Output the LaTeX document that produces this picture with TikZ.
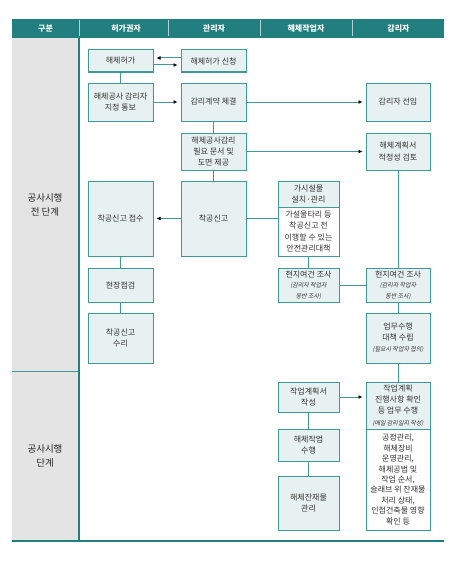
\documentclass[tikz,border=0pt]{standalone}
\usepackage{fontspec}
\setmainfont{Noto Sans CJK KR}
\newfontfamily\slfont[FakeSlant=0.2]{Noto Sans CJK KR}
\usetikzlibrary{arrows.meta,calc}
\definecolor{tealhead}{HTML}{217F80}
\definecolor{tealline}{HTML}{3E9A99}
\definecolor{boxfill}{HTML}{E8F1F1}
\definecolor{greycol}{HTML}{E4E4E4}
\definecolor{txt}{HTML}{333333}
\newcommand\nfont{\slfont\fontsize{6}{9.5}\selectfont}
\newcommand\kfont{\slfont\fontsize{6}{8.5}\selectfont}
\begin{document}
\begin{tikzpicture}[x=1pt,y=-1pt,
  box/.style={draw=tealline, line width=1pt, fill=boxfill, inner sep=0pt, align=center,
    font=\fontsize{8}{11.2}\selectfont, text=txt},
  wbox/.style={box, fill=white},
  conn/.style={draw=tealline, line width=1pt},
  arr/.style={conn, -{Latex[length=4pt,width=4pt,color=black]}, shorten >=3pt},
  head/.style={font=\bfseries\fontsize{8}{10}\selectfont, text=white},
  sep/.style={draw=white!65!tealhead, line width=0.7pt},
  lab/.style={font=\fontsize{9.5}{14}\selectfont, align=center, text=black!85}
]
\useasboundingbox (0,0) rectangle (456,578);
% header
\fill[tealhead] (12,19) rectangle (444,38);
\draw[sep] (79,20.5) -- (79,36.5);
\draw[sep] (168,20.5) -- (168,36.5);
\draw[sep] (260,20.5) -- (260,36.5);
\draw[sep] (352,20.5) -- (352,36.5);
\node[head] (h1) at (45.5,29) {구분};
\node[head] (h2) at (126,29) {허가권자};
\node[head] (h3) at (214,29) {관리자};
\node[head] (h4) at (306,29) {해체작업자};
\node[head] (h5) at (398.5,29) {감리자};
% left column
\fill[greycol] (12,38) rectangle (79,541);
\draw[tealline, line width=1pt] (12,371) -- (79,371);
\draw[tealhead, line width=1.1pt] (79,38) -- (79,541);
\draw[tealhead, line width=1.1pt] (12,541) -- (444,541);
\node[lab] (l1) at (45,205) {공사시행\\전 단계};
\node[lab] (l2) at (45,456) {공사시행\\단계};
% boxes
\node[box, minimum width=65pt, minimum height=22pt] (A) at (120.5,61) {해체허가};
\node[box, minimum width=65pt, minimum height=22pt] (B) at (213.5,61) {해체허가 신청};
\node[box, minimum width=65pt, minimum height=38pt] (C) at (120.5,102) {해체공사 감리자\\지정 통보};
\node[box, minimum width=65pt, minimum height=38pt] (D) at (213.5,102) {감리계약 체결};
\node[box, minimum width=64pt, minimum height=38pt] (E) at (398,102) {감리자 선임};
\node[box, minimum width=65pt, minimum height=37pt] (F) at (213.5,151.5) {해체공사감리\\필요 문서 및\\도면 제공};
\node[box, minimum width=64pt, minimum height=37pt] (G) at (398,151.5) {해체계획서\\적정성 검토};
\node[box, minimum width=65pt, minimum height=75pt] (H) at (120.5,218.5) {착공신고 접수};
\node[box, minimum width=65pt, minimum height=75pt] (I) at (213.5,218.5) {착공신고};
\node[box, minimum width=61pt, minimum height=26pt] (J) at (308.5,194) {가시설물\\설치·관리};
\node[wbox, minimum width=61pt, minimum height=49pt] (J2) at (308.5,231.5) {가설울타리 등\\착공신고 전\\이행할 수 있는\\안전관리대책};
\node[box, minimum width=61pt, minimum height=34pt] (K) at (308.5,285) {\raisebox{-1pt}{현지여건 조사}\\\kfont(감리자 작업자\\\kfont 동반 조사)};
\node[box, minimum width=64pt, minimum height=34pt] (L) at (398,285) {\raisebox{-1pt}{현지여건 조사}\\\kfont(감리자 작업자\\\kfont 동반 조사)};
\node[box, minimum width=65pt, minimum height=34pt] (M) at (120.5,285) {현장점검};
\node[box, minimum width=65pt, minimum height=50pt] (N) at (120.5,338) {착공신고\\수리};
\node[box, minimum width=64pt, minimum height=50pt] (O) at (398,338) {업무수행\\대책 수립\\\nfont(필요시 작업자 협의)};
\node[box, minimum width=61pt, minimum height=30pt] (P) at (308.5,397) {작업계획서\\작성};
\node[box, minimum width=64pt, minimum height=47pt] (Q) at (398,405.5) {작업계획\\진행사항 확인\\등 업무 수행\\\nfont(매일 감리일지 작성)};
\node[wbox, minimum width=64pt, minimum height=101pt, font=\fontsize{8}{10.4}\selectfont] (Q2) at (398,479.5) {공정관리,\\해체장비\\운영관리,\\해체공법 및\\작업 순서,\\슬래브 위 잔재물\\처리 상태,\\인접건축물 영향\\확인 등};
\node[box, minimum width=61pt, minimum height=32pt] (R) at (308.5,445) {해체작업\\수행};
\node[box, minimum width=61pt, minimum height=54pt] (S) at (308.5,503) {해체잔재물\\관리};
% connectors
\draw[conn] (A) -- (C);
\draw[conn] (D) -- (F);
\draw[conn] (F) -- (I);
\draw[conn] (G) -- (L);
\draw[conn] (J2) -- (K);
\draw[conn] (H) -- (M);
\draw[conn] (M) -- (N);
\draw[conn] (L) -- (O);
\draw[conn] (O) -- (Q);
\draw[conn] (P) -- (R);
\draw[conn] (R) -- (S);
\draw[conn] (K) -- (L);
\draw[conn] (I.east) -- (I.east -| J2.west);
% arrows
\draw[arr] ([yshift=3pt]B.west) -- ([yshift=3pt]A.east);
\draw[arr] ([yshift=-4pt]A.east) -- ([yshift=-4pt]B.west);
\draw[arr] (C) -- (D);
\draw[arr] (D) -- (E);
\draw[arr] (F) -- (G);
\draw[arr] (I) -- (H);
\draw[arr] (P.east) -- (P.east -| Q.west);
\end{tikzpicture}
\end{document}
